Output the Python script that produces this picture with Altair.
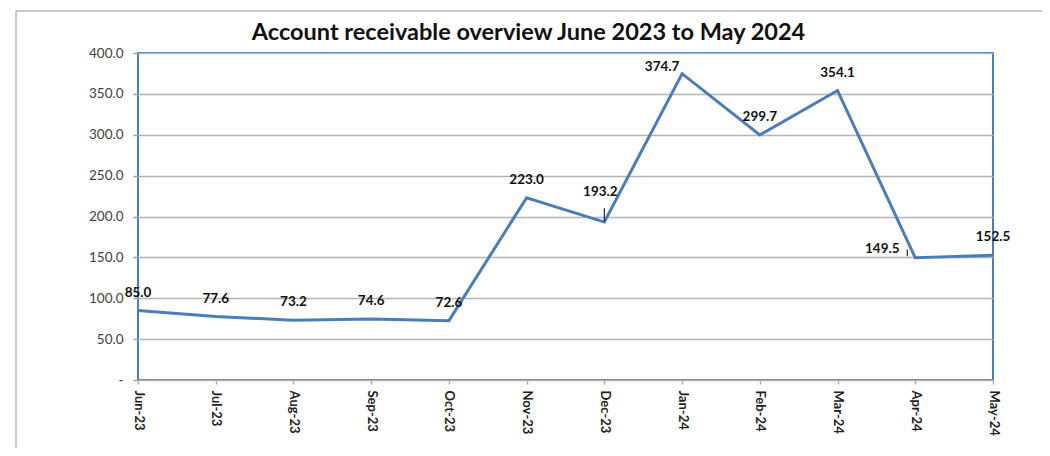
import altair as alt
import pandas as pd

months = ["Jun-23", "Jul-23", "Aug-23", "Sep-23", "Oct-23", "Nov-23",
          "Dec-23", "Jan-24", "Feb-24", "Mar-24", "Apr-24", "May-24"]
values = [85.0, 77.6, 73.2, 74.6, 72.6, 223.0, 193.2, 374.7, 299.7, 354.1, 149.5, 152.5]
y_ticks = [0, 50, 100, 150, 200, 250, 300, 350, 400]

df = pd.DataFrame({"month": months, "value": values})

BLUE = "#4a7ebb"
FONT = "Lato"

x_enc = alt.X("month:N", sort=months,
              scale=alt.Scale(type="point", padding=0),
              axis=alt.Axis(title=None, labelAngle=90, labelAlign="left", labelBaseline="middle",
                            labelFont=FONT, labelFontSize=13, labelFontWeight="bold",
                            labelColor="#222222", labelPadding=6,
                            ticks=True, tickSize=4, tickColor="#b0b0b0", tickWidth=1.5,
                            domain=False, grid=False))
y_enc = alt.Y("value:Q",
              scale=alt.Scale(domain=[0, 400], nice=False),
              axis=alt.Axis(title=None, values=y_ticks,
                            labelExpr="datum.value == 0 ? '-' : format(datum.value, '.1f')",
                            labelFont=FONT, labelFontSize=13.5, labelColor="#404040",
                            labelPadding=10, tickSize=5, tickColor="#a0a0a0", tickWidth=1.5,
                            domain=False, grid=True, gridColor="#b4b4b4", gridWidth=1.5))

base = alt.Chart(df)

line = base.mark_line(color=BLUE, strokeWidth=3).encode(x=x_enc, y=y_enc)

text_style = dict(font=FONT, fontSize=13.5, fontWeight="bold", color="#111111")

labels_default = base.transform_filter(
    "indexof(['Jan-24','Apr-24','Dec-23'], datum.month) < 0"
).mark_text(dy=-18, **text_style).encode(
    x=alt.X("month:N", sort=months), y="value:Q", text=alt.Text("value:Q", format=".1f"))

labels_jan = base.transform_filter("datum.month == 'Jan-24'").mark_text(
    dx=-20, dy=-7, **text_style).encode(
    x=alt.X("month:N", sort=months), y="value:Q", text=alt.Text("value:Q", format=".1f"))

labels_dec = base.transform_filter("datum.month == 'Dec-23'").mark_text(
    dx=-4, dy=-30, **text_style).encode(
    x=alt.X("month:N", sort=months), y="value:Q", text=alt.Text("value:Q", format=".1f"))

labels_apr = base.transform_filter("datum.month == 'Apr-24'").mark_text(
    dx=-33, dy=-9, **text_style).encode(
    x=alt.X("month:N", sort=months), y="value:Q", text=alt.Text("value:Q", format=".1f"))

# leader lines for Dec and Apr labels
leader_dec = base.transform_filter("datum.month == 'Dec-23'").transform_calculate(
    top="datum.value + 17", bot="datum.value + 1").mark_rule(
    color="#222222", strokeWidth=1.2).encode(
    x=alt.X("month:N", sort=months), y="top:Q", y2="bot:Q")

leader_apr = base.transform_filter("datum.month == 'Apr-24'").transform_calculate(
    top="datum.value + 10", bot="datum.value + 2").mark_rule(
    color="#222222", strokeWidth=1.2, xOffset=-8).encode(
    x=alt.X("month:N", sort=months), y="top:Q", y2="bot:Q")

# outer frame of the chart (decorative)
frame_left = alt.Chart(df).mark_rule(color="#c8c8c8", strokeWidth=1.5).encode(
    x=alt.value(-122), y=alt.value(-42), y2=alt.value(400))
frame_top = alt.Chart(df).mark_rule(color="#c8c8c8", strokeWidth=1.5).encode(
    x=alt.value(-122), x2=alt.value(930), y=alt.value(-42))

chart = alt.layer(
    frame_left, frame_top, line, labels_default, labels_jan, labels_dec, labels_apr,
    leader_dec, leader_apr
).properties(
    width=855, height=327,
    autosize=alt.AutoSizeParams(type="none"),
    padding={"left": 130, "top": 45, "right": 49, "bottom": 68},
    title=alt.TitleParams("Account receivable overview June 2023 to May 2024",
                          font=FONT, fontSize=23.5, fontWeight="bold", color="#111111",
                          anchor="middle", frame="group", dx=-37, offset=-53,
                          baseline="alphabetic")
).configure(
    background="white"
).configure_view(
    stroke=BLUE, strokeWidth=2
)

chart.save("out.html", embed_options={"renderer": "svg", "actions": False})
